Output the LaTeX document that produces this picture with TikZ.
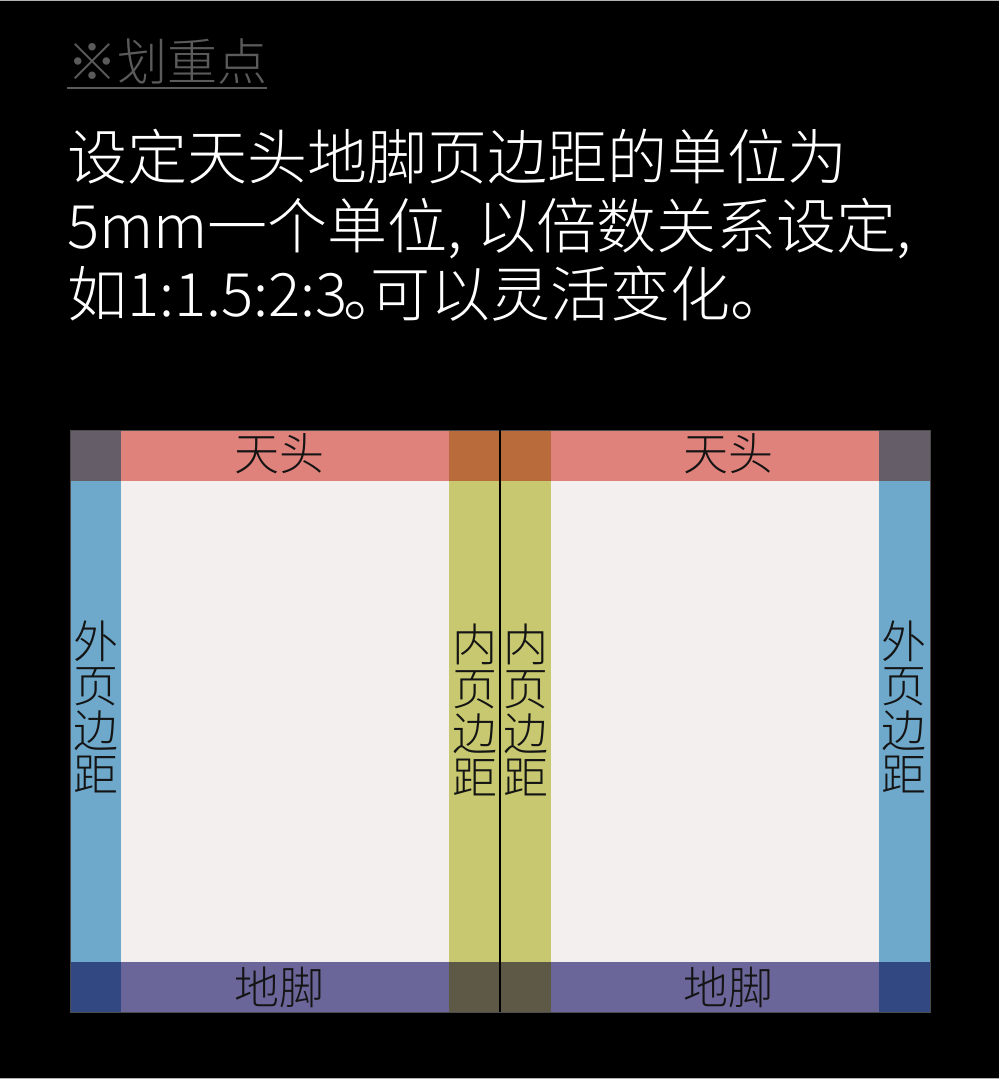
\documentclass[tikz,border=0pt]{standalone}
\usepackage{fontspec}
\newfontfamily\cjk{Noto Sans CJK SC Light}
\definecolor{cornertop}{HTML}{655D67}
\definecolor{headband}{HTML}{DF827C}
\definecolor{outerband}{HTML}{6EA8CA}
\definecolor{pagefill}{HTML}{F2EFEE}
\definecolor{innertop}{HTML}{B96B3B}
\definecolor{innerband}{HTML}{C8C870}
\definecolor{footband}{HTML}{6B6699}
\definecolor{innerfoot}{HTML}{5E5847}
\definecolor{cornerfoot}{HTML}{324882}
\definecolor{titlegrey}{HTML}{5B5B5B}
\definecolor{labeltext}{HTML}{141414}
\tikzset{
  bandlabel/.style={inner sep=0pt, text=labeltext, font=\cjk\fontsize{45}{44.5}\selectfont},
  sidelabel/.style={bandlabel, align=center},
  bodyline/.style={anchor=base west, inner sep=0pt, text=white, font=\cjk\fontsize{60}{68}\selectfont}
}
\begin{document}
\begin{tikzpicture}[x=1pt,y=-1pt]
\useasboundingbox[fill=black] (0,0) rectangle (999,1079);
\draw[gray!60, line width=1pt] (0,0.5) -- (999,0.5);
\draw[gray!60, line width=1pt] (0,1078.5) -- (999,1078.5);
% heading
\node[anchor=base west, inner sep=0pt, text=titlegrey, font=\cjk\fontsize{50}{50}\selectfont] (title) at (67,80) {※划重点};
\draw[titlegrey, line width=2pt] (title.west |- 0,88) -- (title.east |- 0,88);
\node[bodyline] (line1) at (67,179) {设定天头地脚页边距的单位为};
\node[bodyline] (line2) at (67,248) {5mm一个单位, 以倍数关系设定,};
\node[bodyline] (line3) at (67,316) {如1:1.5:2:3\kern-4pt。\kern-33pt可以灵活变化。};
% left page
\begin{scope}
\fill[pagefill] (121,481) rectangle (449,962);
\fill[cornertop] (70,430) rectangle (121,481);
\fill[headband] (121,430) rectangle (449,481);
\fill[innertop] (449,430) rectangle (500,481);
\fill[outerband] (70,481) rectangle (121,962);
\fill[innerband] (449,481) rectangle (500,962);
\fill[cornerfoot] (70,962) rectangle (121,1012);
\fill[footband] (121,962) rectangle (449,1012);
\fill[innerfoot] (449,962) rectangle (500,1012);
\node[bandlabel] (headL) at (279,454) {天头};
\node[bandlabel] (footL) at (279,987) {地脚};
\node[sidelabel] (outerL) at (95.5,707) {外\\页\\边\\距};
\node[sidelabel] (innerL) at (474.5,710) {内\\页\\边\\距};
\end{scope}
% right page
\begin{scope}
\fill[pagefill] (551,481) rectangle (879,962);
\fill[innertop] (500,430) rectangle (551,481);
\fill[headband] (551,430) rectangle (879,481);
\fill[cornertop] (879,430) rectangle (930,481);
\fill[innerband] (500,481) rectangle (551,962);
\fill[outerband] (879,481) rectangle (930,962);
\fill[innerfoot] (500,962) rectangle (551,1012);
\fill[footband] (551,962) rectangle (879,1012);
\fill[cornerfoot] (879,962) rectangle (930,1012);
\node[bandlabel] (headR) at (728,454) {天头};
\node[bandlabel] (footR) at (728,987) {地脚};
\node[sidelabel] (innerR) at (525.5,710) {内\\页\\边\\距};
\node[sidelabel] (outerR) at (904,707) {外\\页\\边\\距};
\end{scope}
\draw[black!70, line width=0.8pt] (70,430) rectangle (930,1012);
\draw[black, line width=1.2pt] (500,430) -- (500,1012);
\end{tikzpicture}
\end{document}
